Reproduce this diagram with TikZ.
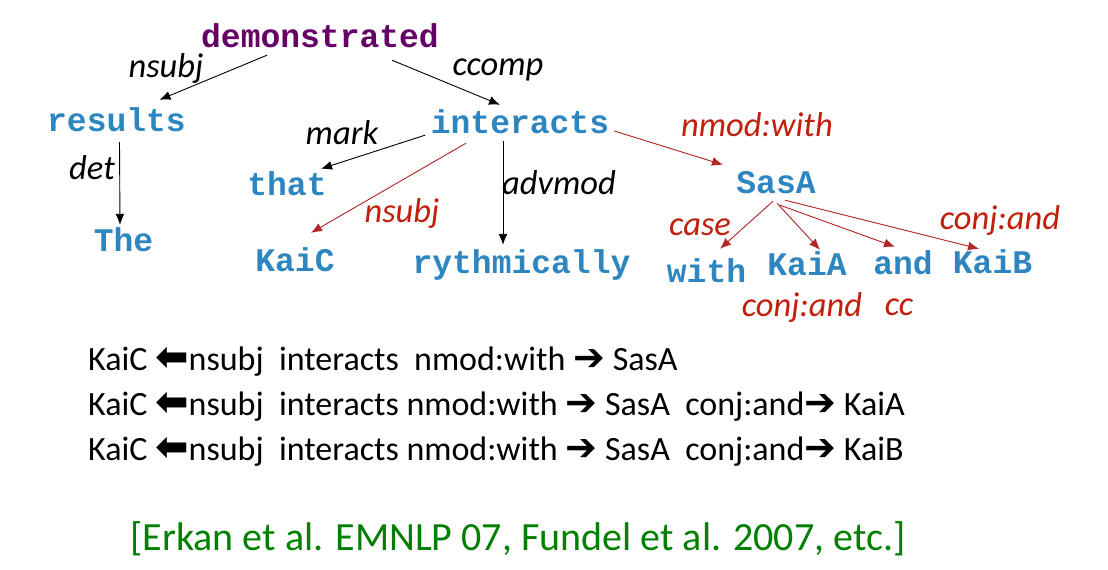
\documentclass[tikz,border=0pt]{standalone}
\usepackage{fontspec}
\setmainfont{Carlito}
\newfontfamily\wordfont{Liberation Mono}
\newfontfamily\symfont{DejaVu Sans}
\usepackage{tikz}
\usetikzlibrary{positioning}
\usetikzlibrary{shapes,arrows,arrows.meta}
\definecolor{wordblue}{RGB}{46,134,193}
\definecolor{rootpurple}{RGB}{102,0,102}
\definecolor{labred}{RGB}{192,32,12}
\definecolor{arrred}{RGB}{178,40,40}
\definecolor{citegreen}{RGB}{0,128,0}
\newcommand{\larr}{{\symfont\bfseries\fontsize{40}{36}\selectfont ⬅}}
\newcommand{\rarr}{{\symfont\bfseries\fontsize{38}{36}\selectfont ➔}}
\tikzstyle{word} = [text=wordblue, font=\wordfont\bfseries\fontsize{33}{36}\selectfont,
text height=20pt, text depth=6pt, inner sep=2pt]
\tikzstyle{lbl} = [font=\itshape\fontsize{34.5}{36}\selectfont, inner sep=0pt]
\tikzstyle{line} = [draw, -{Latex[length=11pt,width=9pt]}, line width=0.9pt]
\tikzstyle{redline} = [line, draw=arrred, fill=arrred]
\tikzstyle{pathtext} = [anchor=base west, font=\fontsize{34}{36}\selectfont, inner sep=0pt]

\begin{document}
\begin{tikzpicture}[x=1pt, y=1pt, on grid]
\useasboundingbox (0,0) rectangle (1108,-570);
    % words
\node [word, text=rootpurple] (dem) at (320,-40) {demonstrated};
\node [word, below left=84pt and 203.5pt of dem] (res) {results};
\node [word, below right=120pt and 7pt of res] (the) {The};
\node [word, below right=86pt and 200pt of dem] (int) {interacts};
\node [word, below left=62pt and 233pt of int] (that) {that};
\node [word, below left=138pt and 225pt of int] (kaic) {KaiC};
\node [word, below right=140pt and 1.5pt of int] (ryth) {rythmically};
\node [word, below right=60pt and 256pt of int] (sasa) {SasA};
\node [word, below left=89pt and 69.5pt of sasa] (with) {with};
\node [word, below right=82pt and 31pt of sasa] (kaia) {KaiA};
\node [word, below right=81pt and 127pt of sasa] (and) {and};
\node [word, below right=80pt and 216.5pt of sasa] (kaib) {KaiB};

    % labels
\node [lbl] (lnsubj) at (166,-68) {nsubj};
\node [lbl] (lccomp) at (498,-70) {ccomp};
\node [lbl] (ldet) at (92,-168) {det};
\node [lbl] (lmark) at (342,-133) {mark};
\node [lbl] (ladvmod) at (559,-183) {advmod};
\node [lbl, text=labred] (lnsubjr) at (402,-213) {nsubj};
\node [lbl, text=labred] (lnmod) at (757,-125) {nmod:with};
\node [lbl, text=labred] (lcase) at (700,-227) {case};
\node [lbl, text=labred] (lconjb) at (1000,-220) {conj:and};
\node [lbl, text=labred] (lconja) at (802,-307) {conj:and};
\node [lbl, text=labred] (lcc) at (899,-307) {cc};

    % paths
\node [pathtext] (pa) at (88,-370) {KaiC \larr nsubj\ \ interacts\ \ nmod:with \rarr\ SasA};
\node [pathtext, below=45pt of pa.base west, anchor=base west] (pb) {KaiC \larr nsubj\ \ interacts nmod:with \rarr\ SasA\ \ conj:and\rarr\ KaiA};
\node [pathtext, below=45pt of pb.base west, anchor=base west] (pc) {KaiC \larr nsubj\ \ interacts nmod:with \rarr\ SasA\ \ conj:and\rarr\ KaiB};
\node [anchor=base, text=citegreen, font=\fontsize{40}{44}\selectfont] (cite) at (518,-550) {[Erkan et al. EMNLP 07, Fundel et al. 2007, etc.]};

%edges
\path [line] ([xshift=-53pt]dem.south) -- ([shift={(43pt,9pt)}]res.north);
\path [line] ([shift={(72pt,-5pt)}]dem.south) -- ([shift={(-20pt,6pt)}]int.north);
\path [line] ([shift={(3pt,-3pt)}]res.south) -- ([shift={(-3.5pt,4pt)}]the.north);
\path [line] ([shift={(-95pt,6pt)}]int.south) -- ([shift={(34pt,4pt)}]that.north);
\path [redline] ([shift={(-54pt,-2pt)}]int.south) -- ([shift={(16pt,16pt)}]kaic.north);
\path [line] ([xshift=-17pt]int.south) -- ([shift={(-18.5pt,6pt)}]ryth.north);
\path [redline] ([shift={(3pt,-5pt)}]int.east) -- ([shift={(-53pt,6pt)}]sasa.north);
\path [redline] ([xshift=-3pt]sasa.south) -- ([shift={(13.5pt,11pt)}]with.north);
\path [redline] ([shift={(1pt,-2pt)}]sasa.south) -- ([shift={(13pt,3pt)}]kaia.north);
\path [redline] ([shift={(4pt,-4pt)}]sasa.south) -- ([shift={(-8pt,5pt)}]and.north);
\path [redline] ([shift={(9pt,1pt)}]sasa.south) -- ([shift={(-13.5pt,2pt)}]kaib.north);
\end{tikzpicture}
\end{document}
